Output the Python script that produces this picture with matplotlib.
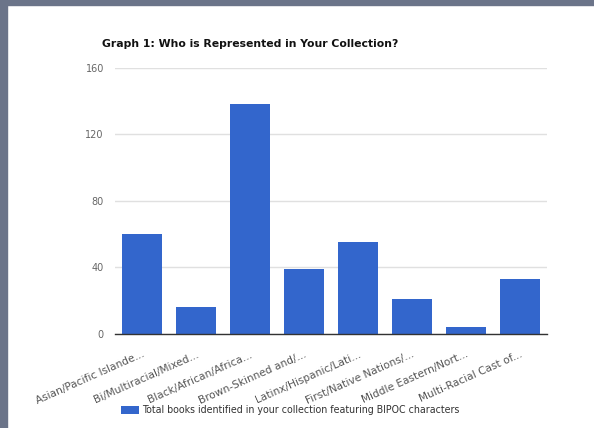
import matplotlib
matplotlib.use("Agg")
import matplotlib.pyplot as plt
from matplotlib.patches import Rectangle

categories = ["Asian/Pacific Islande...", "Bi/Multiracial/Mixed...", "Black/African/Africa...",
              "Brown-Skinned and/...", "Latinx/Hispanic/Lati...", "First/Native Nations/...",
              "Middle Eastern/Nort...", "Multi-Racial Cast of..."]
values = [60, 16, 138, 39, 55, 21, 4, 33]
yticks = [0, 40, 80, 120, 160]
series_name = "Total books identified in your collection featuring BIPOC characters"

W, H = 594, 428
fig = plt.figure(figsize=(W / 100, H / 100), dpi=100)
fig.patch.set_facecolor("white")

# dark frame on the top and left edges
frame = "#6b7489"
fig.patches.append(Rectangle((0, 1 - 5 / H), 1, 5 / H, transform=fig.transFigure, color=frame, zorder=0))
fig.patches.append(Rectangle((0, 0), 7 / W, 1, transform=fig.transFigure, color=frame, zorder=0))

ax = fig.add_axes([115 / W, 1 - 334 / H, (547 - 115) / W, (334 - 67.7) / H])
x = range(len(categories))
bars = ax.bar(x, values, width=0.75, color="#3366cc", zorder=3, label=series_name)

ax.set_xlim(-0.5, len(categories) - 0.5)
ax.set_ylim(0, 160)
ax.set_yticks(yticks)
ax.set_yticklabels([str(t) for t in yticks], color="#666666", fontsize=7)
ax.set_xticks(list(x))
ax.set_xticklabels(categories, rotation=24, ha="right", rotation_mode="anchor",
                   fontsize=7.6, color="#555555")
ax.tick_params(axis="y", length=0, pad=8)
ax.tick_params(axis="x", length=0, pad=11)
ax.yaxis.grid(True, color="#e0e0e0", linewidth=1, zorder=0)
for s in ["top", "right", "left"]:
    ax.spines[s].set_visible(False)
ax.spines["bottom"].set_color("#333333")
ax.spines["bottom"].set_linewidth(1)
ax.spines["bottom"].set_zorder(4)

fig.text(102 / W, 1 - 44 / H, "Graph 1: Who is Represented in Your Collection?",
         fontsize=7.85, fontweight="bold", color="#111111", va="center", ha="left")

fig.legend(handles=[bars], labels=[series_name], loc="center left",
           bbox_to_anchor=(112 / W, 1 - 410 / H), frameon=False, fontsize=6.85,
           handlelength=1.9, handleheight=0.9, handletextpad=0.4, labelcolor="#333333")

fig.savefig("out.png", dpi=100)
